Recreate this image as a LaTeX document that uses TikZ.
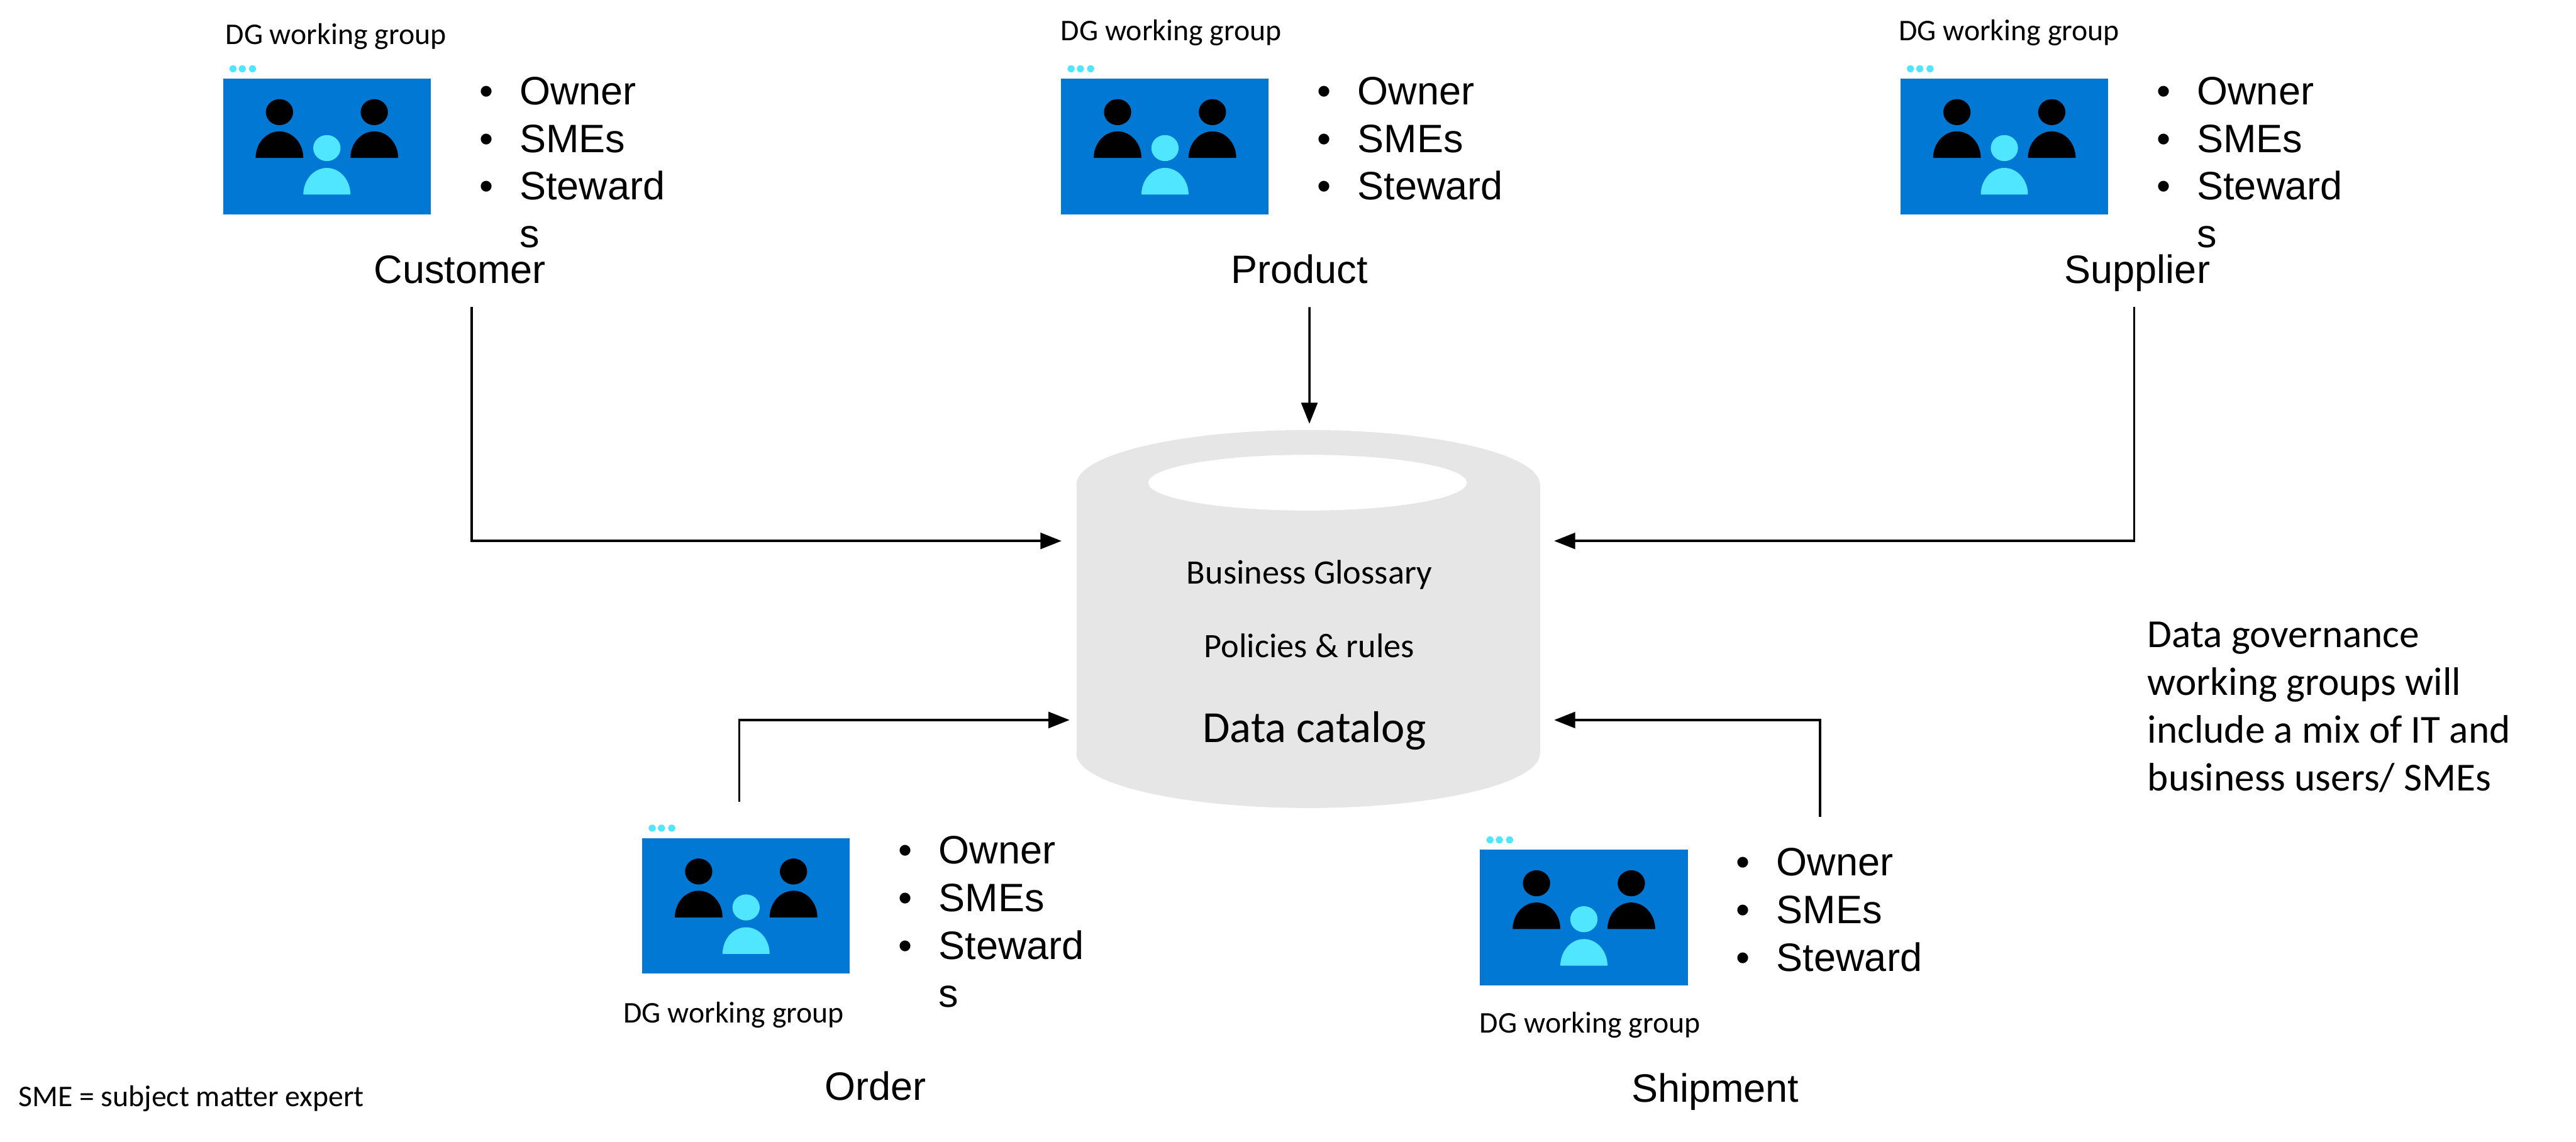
\documentclass[tikz,border=0pt]{standalone}
\usepackage{fontspec}
\setmainfont{Liberation Sans}
\newfontfamily\calfont{Carlito}
\usepackage{tikz}
\usetikzlibrary{shapes.geometric, arrows.meta, positioning, calc}
\definecolor{teamblue}{HTML}{0078D4}
\definecolor{teamcyan}{HTML}{50E6FF}
\definecolor{dbgray}{HTML}{E6E6E6}
\newcommand{\bul}{\makebox[0.65cm][l]{\textbullet}}

\begin{document}
\begin{tikzpicture}[
    font=\fontsize{18.2}{21.9}\selectfont,
    teambox/.style={fill=teamblue, inner sep=0pt, minimum width=3.35cm, minimum height=2.19cm},
    roles/.style={inner sep=0pt, align=left, anchor=north west},
    dglabel/.style={font=\calfont\fontsize{13.8}{15}\selectfont, inner sep=0pt},
    entity/.style={inner sep=0pt, text height=0.48cm, text depth=0.14cm, minimum height=1.1cm},
    dbtext/.style={font=\calfont\fontsize{15.7}{17}\selectfont, inner sep=0pt},
    dbcap/.style={ellipse, fill=dbgray, inner sep=0pt, minimum width=7.48cm, minimum height=1.76cm},
    arrow/.style={-{Triangle[length=3.4mm, width=2.6mm]}, line width=1pt},
    people/.pic={
        \fill[teamcyan] (-1.515,1.255) ellipse (0.06 and 0.057);
        \fill[teamcyan] (-1.365,1.255) ellipse (0.06 and 0.057);
        \fill[teamcyan] (-1.2,1.255) ellipse (0.06 and 0.057);
        \fill (-0.765,0.555) ellipse (0.22 and 0.21);
        \fill (0.765,0.555) ellipse (0.22 and 0.21);
        \fill (-1.15,-0.185) arc[start angle=180, end angle=0, x radius=0.385, y radius=0.43] -- cycle;
        \fill (0.38,-0.185) arc[start angle=180, end angle=0, x radius=0.385, y radius=0.43] -- cycle;
        \fill[teamcyan] (0,-0.025) ellipse (0.22 and 0.21);
        \fill[teamcyan] (-0.38,-0.775) arc[start angle=180, end angle=0, x radius=0.38, y radius=0.43] -- cycle;
    }
]
    \useasboundingbox (0,0) rectangle (41.57,-18.43);

    % Catalog
    \node[dbcap] (captop) at (21.11,-7.82) {};
    \node[dbcap] (capbottom) at (21.11,-12.16) {};
    \node[fill=dbgray, inner sep=0pt, minimum width=7.48cm, minimum height=4.34cm] (catalog) at (21.11,-9.99) {};
    \node[ellipse, fill=white, inner sep=0pt, minimum width=5.14cm, minimum height=0.9cm] (lid) at (21.1,-7.79) {};
    \node[dbtext] (glossary) at (21.13,-9.28) {Business Glossary};
    \node[dbtext] (policies) at (21.13,-10.42) {Policies \& rules};
    \node[dbtext, font=\calfont\fontsize{20.4}{22}\selectfont] (dcname) at (21.21,-11.79) {Data catalog};

    % Working groups, top row
    \node[teambox] (team1) at (5.275,-2.365) {};
    \node[teambox] (team2) at (18.8,-2.365) {};
    \node[teambox] (team3) at (32.345,-2.365) {};
    % Working groups, bottom row
    \node[teambox] (team4) at (12.04,-14.62) {};
    \node[teambox] (team5) at (25.56,-14.81) {};
    \pic at (team1) {people};
    \pic at (team2) {people};
    \pic at (team3) {people};
    \pic at (team4) {people};
    \pic at (team5) {people};

    % Role lists
    \node[roles] (roles1) at ([xshift=0.77cm, yshift=0.03cm]team1.north east) {\bul Owner\\ \bul SMEs\\ \bul Steward\\ \hspace*{0.65cm}s};
    \node[roles] (roles2) at ([xshift=0.77cm, yshift=0.03cm]team2.north east) {\bul Owner\\ \bul SMEs\\ \bul Steward};
    \node[roles] (roles3) at ([xshift=0.77cm, yshift=0.03cm]team3.north east) {\bul Owner\\ \bul SMEs\\ \bul Steward\\ \hspace*{0.65cm}s};
    \node[roles] (roles4) at ([xshift=0.77cm, yshift=0.03cm]team4.north east) {\bul Owner\\ \bul SMEs\\ \bul Steward\\ \hspace*{0.65cm}s};
    \node[roles] (roles5) at ([xshift=0.77cm, yshift=0.03cm]team5.north east) {\bul Owner\\ \bul SMEs\\ \bul Steward};

    % DG captions
    \node[dglabel] (dg1) at (5.42,-0.59) {DG working group};
    \node[dglabel] (dg2) at (18.9,-0.53) {DG working group};
    \node[dglabel] (dg3) at (32.42,-0.53) {DG working group};
    \node[dglabel] (dg4) at (11.84,-16.38) {DG working group};
    \node[dglabel] (dg5) at (25.66,-16.54) {DG working group};

    % Entity names
    \node[entity] (customer) at (7.42,-4.4) {Customer};
    \node[entity] (product) at (20.97,-4.4) {Product};
    \node[entity] (supplier) at (34.49,-4.4) {Supplier};
    \node[entity] (order) at (14.13,-17.59) {Order};
    \node[entity] (shipment) at (27.68,-17.62) {Shipment};

    % Free notes
    \node[inner sep=0pt, align=left, anchor=north west, font=\calfont\fontsize{18.25}{21.9}\selectfont] (note) at (34.65,-10.03) {Data governance\\ working groups will\\ include a mix of IT and\\ business users/ SMEs};
    \node[dglabel, anchor=west] (sme) at (0.29,-17.73) {SME = subject matter expert};

    % Connections
    \coordinate (inA) at (17.13,-8.73);
    \coordinate (inB) at (21.13,-6.84);
    \coordinate (inC) at (25.08,-8.73);
    \coordinate (inD) at (17.26,-11.62);
    \coordinate (inE) at (25.08,-11.62);
    \coordinate (fromD) at (11.93,-12.94);
    \coordinate (fromE) at (29.37,-13.18);
    \draw[arrow] ([xshift=0.19cm]customer.south) |- (inA);
    \draw[arrow] ([xshift=0.16cm]product.south) -- (inB);
    \draw[arrow] ([xshift=-0.05cm]supplier.south) |- (inC);
    \draw[arrow] (fromD) |- (inD);
    \draw[arrow] (fromE) |- (inE);
\end{tikzpicture}
\end{document}
